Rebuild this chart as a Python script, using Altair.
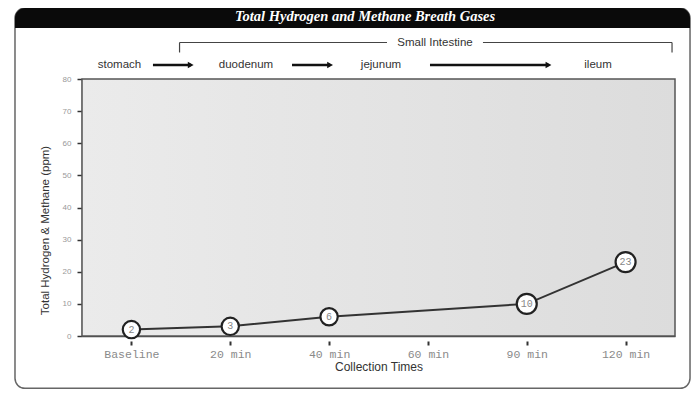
import altair as alt
import pandas as pd

# ---- data ----
categories = ["Baseline", "20 min", "40 min", "60 min", "90 min", "120 min"]
measured_at = ["Baseline", "20 min", "40 min", "90 min", "120 min"]
values = [2, 3, 6, 10, 23]

title_text = "Total Hydrogen and Methane Breath Gases"
region_labels = ["stomach", "duodenum", "jejunum", "ileum"]
bracket_label = "Small Intestine"

# ---- annotation placement (in band units of the x scale / ppm units of y) ----
region_x = [0.379, 1.659, 3.025, 5.221]
arrow_from = [0.718, 2.125, 3.521]
arrow_to = [1.10, 2.51, 4.72]
row_y = 84.36
bracket_y = 91.36
bracket_tick_y = 88.25
bracket_x = [0.987, 5.97]
bracket_gap = [3.086, 4.057]
frame_x = [-0.678, 6.152]
frame_y = [102.1, -16.3]
bar_y = [102.1, 95.9]
title_pos = [2.864, 99.15]
plot_x = [0, 6]
plot_y = [0, 80]

pts = pd.DataFrame({
    "pos": [categories.index(c) + 0.5 for c in measured_at],
    "value": values,
    "label": [str(v) for v in values],
})

xs = alt.Scale(domain=plot_x, nice=False, zero=False)
ys = alt.Scale(domain=plot_y, nice=False)

label_array = "[" + ",".join("'" + c + "'" for c in categories) + "]"

x_axis = alt.Axis(
    values=[i + 0.5 for i in range(len(categories))],
    labelExpr=label_array + "[floor(datum.value)]",
    title="Collection Times", grid=False,
    labelFont="Liberation Mono", labelFontSize=11.5, labelColor="#8a8a8a",
    tickColor="#333", tickSize=10, tickWidth=2, tickDash=[0, 5, 4, 20],
    labelPadding=2,
    domainColor="#444", domainWidth=1.5,
    titleFont="Liberation Sans", titleFontSize=12, titleFontWeight="normal",
    titleColor="#333", titlePadding=2,
)
y_axis = alt.Axis(
    values=list(range(0, 81, 10)), grid=False,
    title="Total Hydrogen & Methane (ppm)",
    labelFont="Liberation Sans", labelFontSize=8, labelColor="#999",
    tickColor="#333", tickSize=5, tickWidth=1.5, labelPadding=6,
    domainColor="#444", domainWidth=1.5,
    titleFont="Liberation Sans", titleFontSize=11.5, titleFontWeight="normal",
    titleColor="#333", titleX=-37, titleY=151, titleBaseline="middle",
)

def X(f):
    return alt.X(f, scale=xs, axis=x_axis)

def Y(f):
    return alt.Y(f, scale=ys, axis=y_axis)

bg_df = pd.DataFrame({"x": [plot_x[0]], "x2": [plot_x[1]], "y": [plot_y[0]], "y2": [plot_y[1]]})
bg = alt.Chart(bg_df).mark_rect(
    color=alt.LinearGradient(
        gradient="linear", x1=0, x2=1, y1=0, y2=0,
        stops=[alt.GradientStop(color="#ebebeb", offset=0),
               alt.GradientStop(color="#dcdcdc", offset=1)],
    ),
    stroke="#555", strokeWidth=1.5,
).encode(x=X("x:Q"), x2="x2", y=Y("y:Q"), y2="y2")

frame_df = pd.DataFrame({"x": [frame_x[0]], "x2": [frame_x[1]], "y": [frame_y[0]], "y2": [frame_y[1]]})
frame = alt.Chart(frame_df).mark_rect(
    fillOpacity=0, stroke="#666", strokeWidth=1.5, cornerRadius=10
).encode(x=X("x:Q"), x2="x2", y=Y("y:Q"), y2="y2")

bar_df = pd.DataFrame({"x": [frame_x[0]], "x2": [frame_x[1]], "y": [bar_y[0]], "y2": [bar_y[1]]})
bar = alt.Chart(bar_df).mark_rect(
    color="#0a0a0a", cornerRadiusTopLeft=10, cornerRadiusTopRight=10
).encode(x=X("x:Q"), x2="x2", y=Y("y:Q"), y2="y2")

title_df = pd.DataFrame({"x": [title_pos[0]], "y": [title_pos[1]], "t": [title_text]})
title = alt.Chart(title_df).mark_text(
    color="white", font="Liberation Serif", fontStyle="italic", fontWeight="bold",
    fontSize=14.5, baseline="middle"
).encode(x=X("x:Q"), y=Y("y:Q"), text="t:N")

br_df = pd.DataFrame({"x": [bracket_x[0], bracket_gap[1]], "x2": [bracket_gap[0], bracket_x[1]], "y": [bracket_y, bracket_y]})
br_h = alt.Chart(br_df).mark_rule(color="#444", strokeWidth=1.2).encode(x=X("x:Q"), x2="x2", y=Y("y:Q"))
brt_df = pd.DataFrame({"x": bracket_x, "y": [bracket_y] * 2, "y2": [bracket_tick_y] * 2})
br_v = alt.Chart(brt_df).mark_rule(color="#444", strokeWidth=1.2).encode(x=X("x:Q"), y=Y("y:Q"), y2="y2")
brl_df = pd.DataFrame({"x": [sum(bracket_gap) / 2], "y": [bracket_y], "t": [bracket_label]})
br_t = alt.Chart(brl_df).mark_text(
    font="Liberation Sans", fontSize=11.5, color="#333", baseline="middle"
).encode(x=X("x:Q"), y=Y("y:Q"), text="t:N")

reg_df = pd.DataFrame({"x": region_x, "y": [row_y] * len(region_x), "t": region_labels})
regions = alt.Chart(reg_df).mark_text(
    font="Liberation Sans", fontSize=11.5, color="#333", baseline="middle"
).encode(x=X("x:Q"), y=Y("y:Q"), text="t:N")

arr_df = pd.DataFrame({"x": arrow_from, "x2": arrow_to, "y": [row_y] * len(arrow_from)})
shafts = alt.Chart(arr_df).mark_rule(color="#111", strokeWidth=2.5).encode(x=X("x:Q"), x2="x2", y=Y("y:Q"))
heads = alt.Chart(arr_df).mark_point(
    shape="triangle-right", filled=True, color="#111", size=45, opacity=1
).encode(x=X("x2:Q"), y=Y("y:Q"))

line = alt.Chart(pts).mark_line(color="#333", strokeWidth=2).encode(x=X("pos:Q"), y=Y("value:Q"))
circles = alt.Chart(pts).mark_point(
    shape="circle", filled=True, fill="white", stroke="#222", strokeWidth=2.2, opacity=1
).encode(
    x=X("pos:Q"), y=Y("value:Q"),
    size=alt.condition("datum.value >= 10", alt.value(400), alt.value(300)),
)
labels = alt.Chart(pts).mark_text(
    font="Liberation Mono", fontSize=10, color="#888", baseline="middle"
).encode(x=X("pos:Q"), y=Y("value:Q"), text="label:N")

chart = alt.layer(
    bg, line, frame, bar, title, br_h, br_v, br_t, regions, shafts, heads, circles, labels
).properties(
    width=593, height=257,
    autosize=alt.AutoSizeParams(type="none"),
    padding={"left": 74, "top": 71, "right": 16, "bottom": 55},
).configure_view(
    strokeWidth=0,
)

chart.save("out.html", embed_options={"renderer": "svg", "actions": False})
